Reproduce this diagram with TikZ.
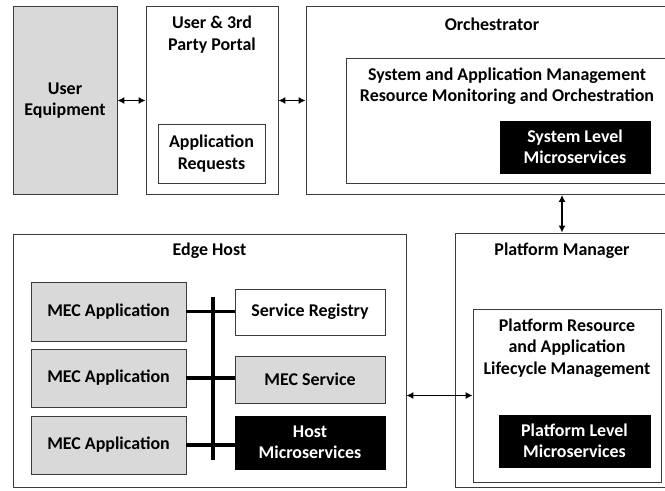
\documentclass[tikz,border=0pt]{standalone}
\usepackage{fontspec}
\setmainfont{Carlito}
\usetikzlibrary{arrows.meta}
\definecolor{boxline}{RGB}{60,60,60}
\definecolor{boxgray}{RGB}{217,217,217}

\begin{document}
\begin{tikzpicture}[
  x=1bp, y=-1bp,
  font=\bfseries\fontsize{18}{21.5}\selectfont,
  box/.style={                              % plain white box
    draw=boxline, line width=0.8bp, fill=white,
    rectangle, inner sep=0pt, align=center
  },
  graybox/.style={box, fill=boxgray},
  blackbox/.style={box, draw=black, fill=black, text=white},
  ttl/.style={inner sep=0pt, align=center},
  link/.style={draw=black, line width=1.8bp, {Latex[length=7bp,width=7bp]}-{Latex[length=7bp,width=7bp]}},
  bus/.style={draw=black, line width=4bp},
]
\clip (0,0) rectangle (665,491);

% ---- Top row ----
\node (ue)     at (65,100.5)  [graybox, minimum width=104bp, minimum height=188bp] {User\\Equipment};
\node (portal) at (212,100.5) [box, minimum width=132bp, minimum height=188bp] {};
\node (portT)  at (212,34.5)  [ttl] {User \& 3rd\\Party Portal};
\node (appreq) at (211.5,153.5) [box, minimum width=107bp, minimum height=59bp] {Application\\Requests};

\node (orch)   at (492,100.5) [box, minimum width=372bp, minimum height=188bp] {};
\node (orchT)  at (492,24)    [ttl] {Orchestrator};
\node (sysmgmt) at (507,120.5) [box, minimum width=322bp, minimum height=125bp] {};
\node (sysT)   at (507,86.5)  [ttl] {System and Application Management\\Resource Monitoring and Orchestration};
\node (sysms)  at (575,147)   [blackbox, minimum width=150bp, minimum height=52bp] {System Level\\Microservices};

% ---- Edge host ----
\node (edge)   at (209.5,360.5) [box, minimum width=393bp, minimum height=253bp] {};
\node (edgeT)  at (209.5,251) [ttl] {Edge Host};
\node (app1)   at (108.5,311.5) [graybox, minimum width=155bp, minimum height=59bp] {MEC Application};
\node (app2)   at (108.5,378)   [graybox, minimum width=155bp, minimum height=58bp] {MEC Application};
\node (app3)   at (108.5,445)   [graybox, minimum width=155bp, minimum height=58bp] {MEC Application};
\node (sreg)   at (310,312)   [box, minimum width=150bp, minimum height=46bp] {Service Registry};
\node (msvc)   at (310,379.5) [graybox, minimum width=150bp, minimum height=47bp] {MEC Service};
\node (hostms) at (310,442.5) [blackbox, minimum width=150bp, minimum height=53bp] {Host\\Microservices};
\coordinate (busT) at (212.5,297);
\coordinate (busB) at (212.5,460);

% ---- Platform manager ----
\node (pm)     at (562,360)   [box, minimum width=214bp, minimum height=254bp] {};
\node (pmT)    at (562,251)   [ttl] {Platform Manager};
\node (pralm)  at (567,395.5) [box, minimum width=188bp, minimum height=173bp] {};
\node (pralmT) at (567,348)   [ttl] {Platform Resource\\and Application\\Lifecycle Management};
\node (plms)   at (574.5,441) [blackbox, minimum width=151bp, minimum height=52bp] {Platform Level\\Microservices};

% ---- Connectors ----
\draw[bus] (busT) -- (busB);
\foreach \a/\b in {app1/sreg, app2/msvc, app3/hostms}
  \draw[bus, line width=3.5bp] (\a.east) -- (\a.east -| \b.west);

\draw[link] (ue.east) -- (portal.west);
\draw[link] (portal.east) -- (orch.west);
\draw[link] (pm.north |- orch.south) -- (pm.north);
\draw[link, line width=1.3bp] (edge.east |- pralm.west) -- (pralm.west);

\end{tikzpicture}
\end{document}
